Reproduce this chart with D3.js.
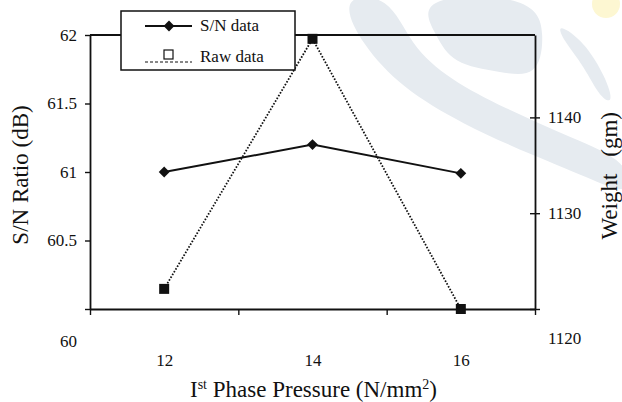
<!DOCTYPE html>
<html>
<head>
<meta charset="utf-8">
<script src="https://cdn.jsdelivr.net/npm/d3@7"></script>
<style>
  body { margin: 0; background: #fff; }
</style>
</head>
<body>
<div id="canvas"></div>
<script>
const pressure = [12, 14, 16]
const snData = [61.0, 61.2, 60.99]
const rawData = [1122.1, 1148.2, 1120.0]
const leftTicks = [60, 60.5, 61, 61.5, 62]
const rightTicks = [1120, 1130, 1140]
const xBounds = [11, 13, 15, 17]

const font = "Liberation Serif"
const width = 622
const height = 402
const margin = { top: 35, left: 90, bottom: 93, right: 87 }
const iwidth = width - margin.left - margin.right
const iheight = height - margin.top - margin.bottom

const svg = d3.select("#canvas").append("svg")
    .attr("width", width)
    .attr("height", height)
    .attr("font-family", font)

// faint publisher watermark behind the chart
const wm = svg.append("g").attr("fill", "#e6ebf0")
const blob = d3.line().curve(d3.curveBasisClosed)
wm.append("path").attr("d", blob([[338, -5], [362, 45], [402, 88], [462, 124], [532, 155], [598, 182], [630, 196],
    [630, 162], [572, 138], [504, 108], [450, 80], [410, 45], [390, -5]]))
wm.append("path").attr("d", blob([[415, -5], [535, -5], [545, 35], [538, 78], [500, 72], [452, 64], [436, 35]]))
wm.append("path").attr("d", blob([[556, 22], [585, 42], [606, 78], [614, 104], [600, 98], [584, 66], [563, 40]]))
wm.append("circle").attr("cx", 606).attr("cy", 4).attr("r", 14).attr("fill", "#fdf7d2")

const g = svg.append("g")
    .attr("transform", `translate(${margin.left}, ${margin.top})`)

const x = d3.scaleLinear().domain([11, 17]).range([0, iwidth])
const yL = d3.scaleLinear().domain([60, 62]).range([iheight, 0])
const yR = d3.scaleLinear().domain([1120, 1148.6]).range([iheight, 0])

// frame: top
g.append("line")
    .attr("x1", 0).attr("x2", iwidth).attr("y1", 0).attr("y2", 0)
    .attr("stroke", "#111").attr("stroke-width", 1.8)

function styleAxis(ax) {
    ax.attr("font-family", font).attr("font-size", 17)
    ax.select(".domain").attr("stroke", "#111").attr("stroke-width", 1.8)
    ax.selectAll(".tick line").attr("stroke", "#111").attr("stroke-width", 1.4)
    ax.selectAll(".tick text").attr("fill", "#111")
}

// left axis
const la = g.append("g")
    .call(d3.axisLeft(yL).tickValues(leftTicks).tickSize(5).tickSizeOuter(0).tickPadding(8).tickFormat(d3.format("")))
styleAxis(la)
la.selectAll(".tick text").filter(d => d === 60).attr("dy", "2.2em")

// right axis with cross ticks
const ra = g.append("g")
    .attr("transform", `translate(${iwidth}, 0)`)
    .call(d3.axisRight(yR).tickValues(rightTicks).tickSize(5).tickSizeOuter(0).tickPadding(8).tickFormat(d3.format("")))
styleAxis(ra)
ra.selectAll(".tick line").attr("x1", -5)
ra.selectAll(".tick text").filter(d => d === 1120).attr("dy", "2.0em")

// bottom axis (category bounds)
const xa = g.append("g")
    .attr("transform", `translate(0, ${iheight})`)
    .call(d3.axisBottom(x).tickValues(xBounds).tickSize(6).tickSizeOuter(0).tickFormat(""))
styleAxis(xa)

// bottom labels
const xl = g.append("g")
    .attr("transform", `translate(0, ${iheight})`)
    .call(d3.axisBottom(x).tickValues(pressure).tickSize(0).tickPadding(45).tickFormat(d3.format("")))
styleAxis(xl)
xl.select(".domain").remove()

// raw data line (dotted)
const lineR = d3.line().x((d, i) => x(pressure[i])).y(d => yR(d))
g.append("path")
    .datum(rawData)
    .attr("d", lineR)
    .attr("fill", "none")
    .attr("stroke", "#111")
    .attr("stroke-width", 1.8)
    .attr("stroke-dasharray", "1.6,1.6")

g.selectAll(".sq").data(rawData).enter()
    .append("rect")
    .attr("class", "sq")
    .attr("x", (d, i) => x(pressure[i]) - 5)
    .attr("y", d => yR(d) - 5)
    .attr("width", 10).attr("height", 10)
    .attr("fill", "#111")

// S/N line
const lineL = d3.line().x((d, i) => x(pressure[i])).y(d => yL(d))
g.append("path")
    .datum(snData)
    .attr("d", lineL)
    .attr("fill", "none")
    .attr("stroke", "#111")
    .attr("stroke-width", 2)

const diamond = d3.symbol().type(d3.symbolDiamond2).size(75)
g.selectAll(".dm").data(snData).enter()
    .append("path")
    .attr("class", "dm")
    .attr("d", diamond)
    .attr("transform", (d, i) => `translate(${x(pressure[i])}, ${yL(d)})`)
    .attr("fill", "#111")

// axis titles
svg.append("text")
    .attr("transform", `translate(28, 175) rotate(-90)`)
    .attr("text-anchor", "middle")
    .attr("font-size", 23)
    .attr("fill", "#111")
    .text("S/N Ratio (dB)")

const rt = svg.append("text")
    .attr("transform", `translate(617, 112) rotate(-90)`)
    .attr("text-anchor", "end")
    .attr("font-size", 23)
    .attr("fill", "#111")
rt.append("tspan").text("Weight")
rt.append("tspan").attr("dx", 17).text("(gm)")

const xt = svg.append("text")
    .attr("x", 190)
    .attr("y", 397)
    .attr("font-size", 23)
    .attr("fill", "#111")
xt.append("tspan").text("I")
xt.append("tspan").attr("dy", -8).attr("font-size", 14).text("st")
xt.append("tspan").attr("dy", 8).text(" Phase Pressure (N/mm")
xt.append("tspan").attr("dy", -8).attr("font-size", 14).text("2")
xt.append("tspan").attr("dy", 8).text(")")

// legend
const leg = svg.append("g").attr("transform", "translate(121, 11)")
leg.append("rect")
    .attr("width", 174).attr("height", 59)
    .attr("fill", "#fff").attr("stroke", "#111").attr("stroke-width", 1.5)
leg.append("line")
    .attr("x1", 24).attr("x2", 71).attr("y1", 15).attr("y2", 15)
    .attr("stroke", "#111").attr("stroke-width", 2)
leg.append("path")
    .attr("d", diamond)
    .attr("transform", "translate(48, 15)")
    .attr("fill", "#111")
leg.append("text").attr("x", 79).attr("y", 20).attr("font-size", 17).attr("fill", "#111").text("S/N data")
leg.append("line")
    .attr("x1", 24).attr("x2", 71).attr("y1", 51).attr("y2", 51)
    .attr("stroke", "#111").attr("stroke-width", 1)
    .attr("stroke-dasharray", "3,2")
leg.append("rect")
    .attr("x", 43).attr("y", 39).attr("width", 9).attr("height", 9)
    .attr("fill", "#fff").attr("stroke", "#111").attr("stroke-width", 1.2)
leg.append("text").attr("x", 79).attr("y", 51).attr("font-size", 17).attr("fill", "#111").text("Raw data")
</script>
</body>
</html>
